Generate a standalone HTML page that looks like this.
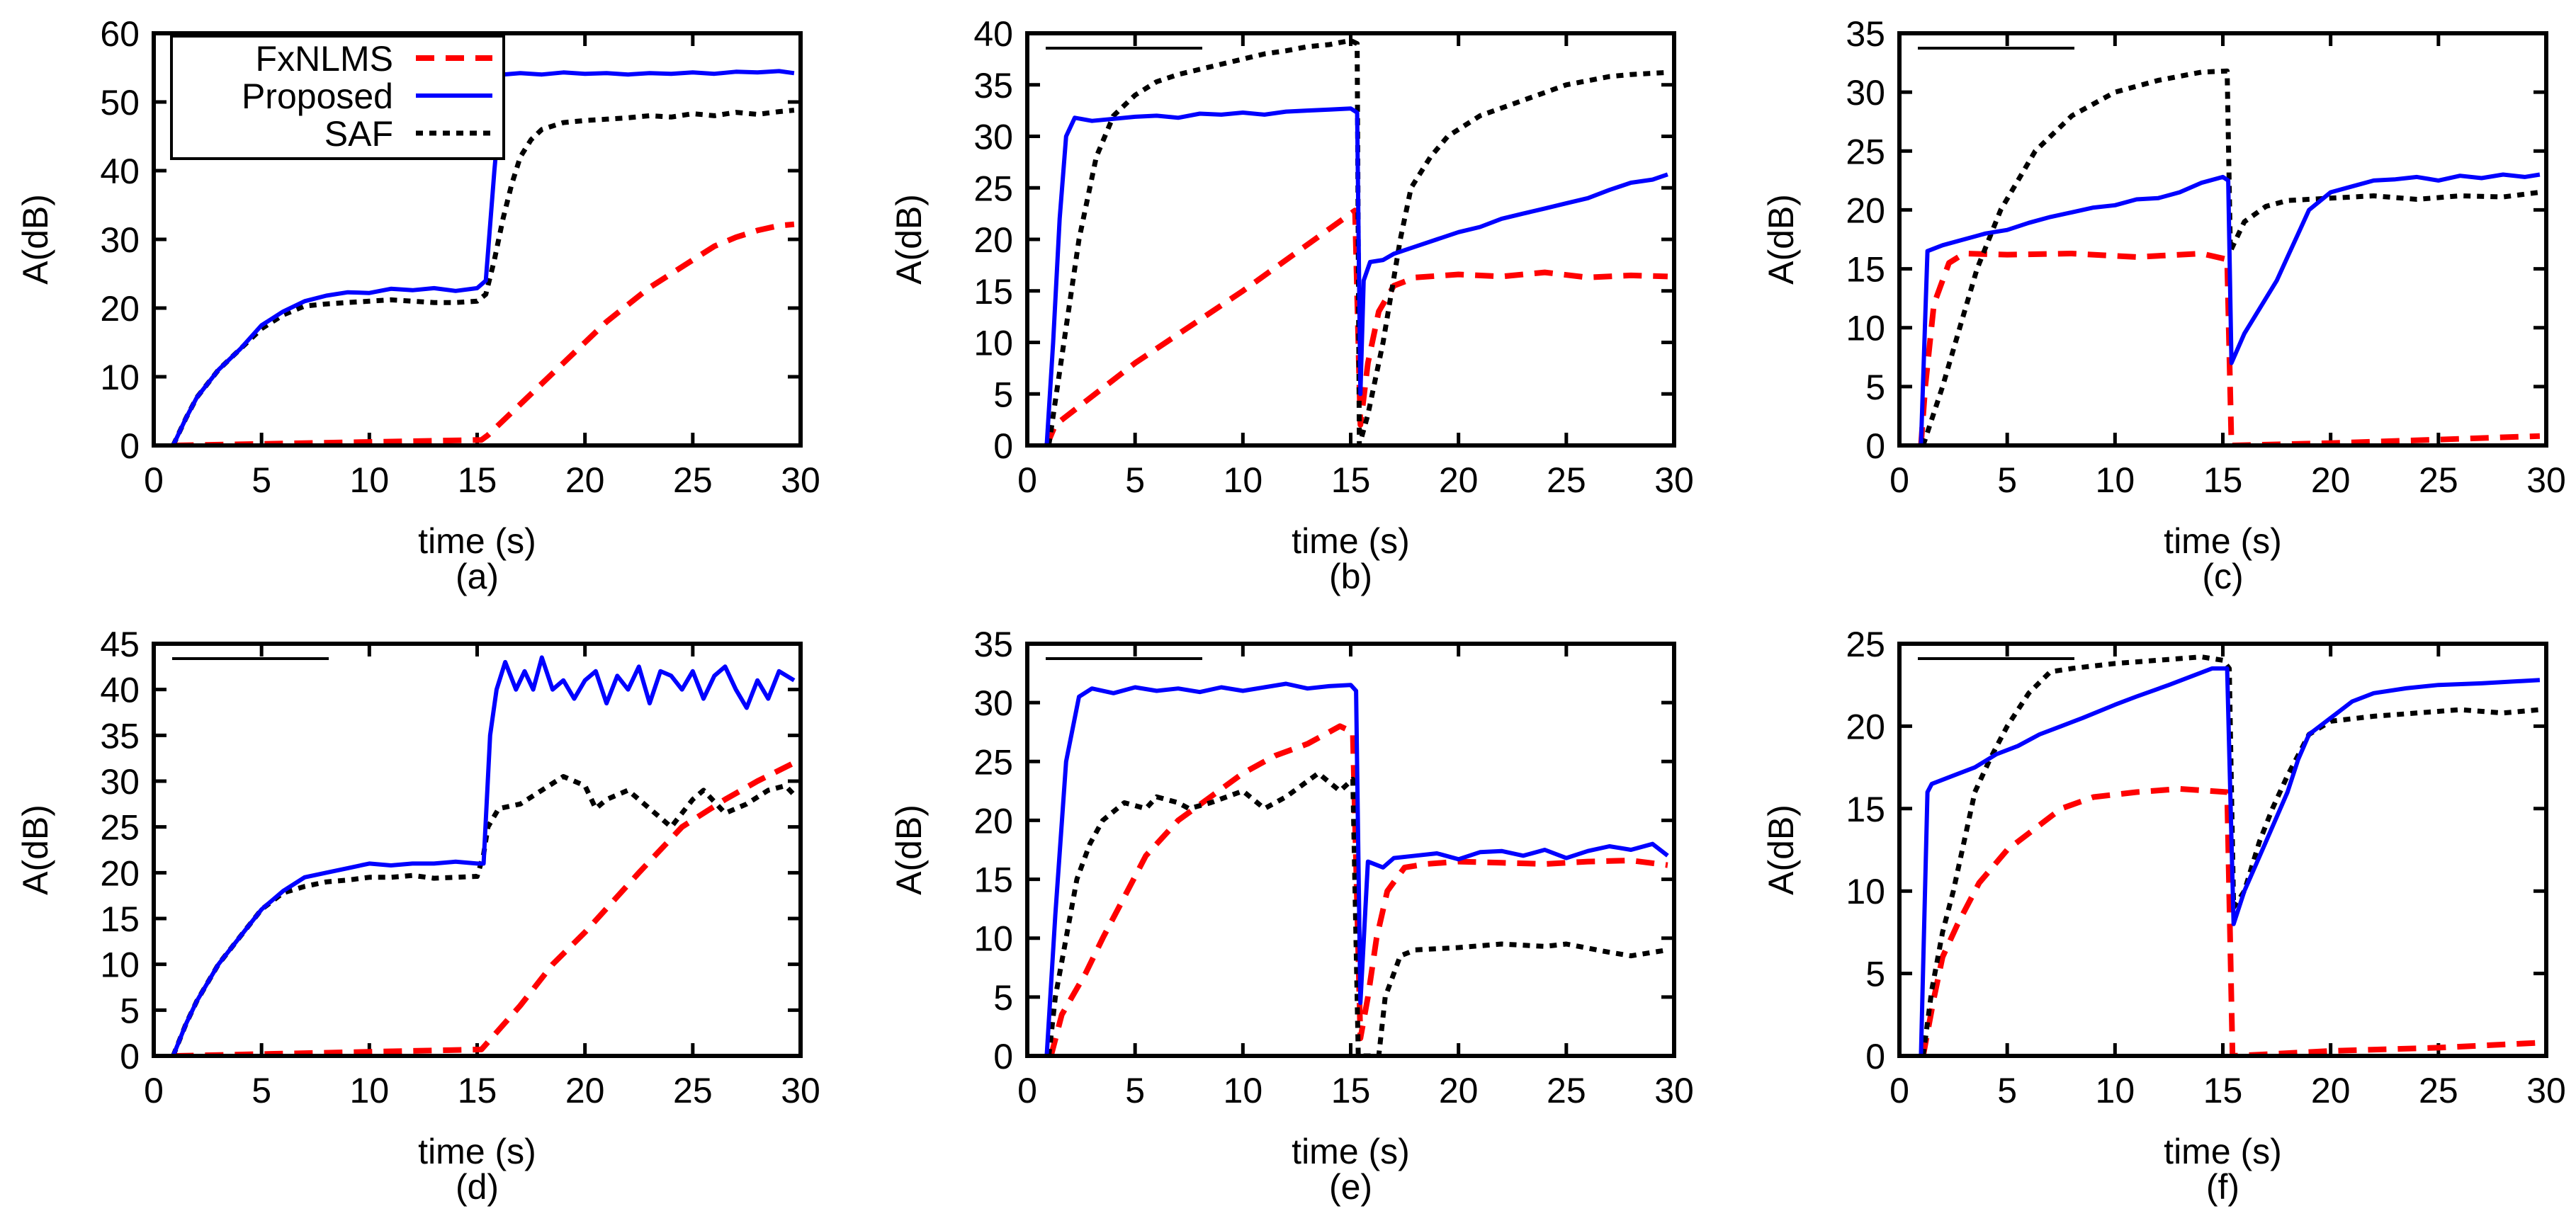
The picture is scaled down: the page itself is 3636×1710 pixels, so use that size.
<!DOCTYPE html>
<html><head><meta charset="utf-8">
<style>
html,body{margin:0;padding:0;background:#fff;}
svg{display:block;}
text{font-family:"Liberation Sans",sans-serif;fill:#000;}
</style></head>
<body>
<svg id="fig" width="3636" height="1710" viewBox="0 0 3636 1710" xmlns="http://www.w3.org/2000/svg"></svg>
<script>
const xTicks = [0,5,10,15,20,25,30];
const panelLetters = ["(a)","(b)","(c)","(d)","(e)","(f)"];
const yMaxes = [60,40,35,45,35,25];
const ySteps = [10,5,5,5,5,5];

// (a)
const aPropT=[0.9,1.5,2,3,4,5,6,7,8,9,10,11,12,13,14,15,15.4,15.8,16.2,17,18,19,20,21,22,23,24,25,26,27,28,29,29.7];
const aPropY=[0,4,7,11,14,17.5,19.5,21,21.8,22.3,22.2,22.8,22.6,22.9,22.5,22.9,24,40,54,54.2,54,54.3,54.1,54.2,54,54.2,54.1,54.3,54.1,54.4,54.3,54.5,54.2];
const aSafT=[0.9,1.5,2,3,4,5,6,7,8,9,10,11,12,13,14,15,15.4,15.8,16.2,16.6,17,17.5,18,18.5,19,20,21,22,23,24,25,26,27,28,29,29.7];
const aSafY=[0,4,7,11,14,17,19,20.3,20.6,20.8,21,21.2,21,20.8,20.8,21,22,27,33,38,42,44.5,46,46.5,47,47.3,47.5,47.7,48,47.8,48.3,48,48.5,48.2,48.6,48.8];
const aFxT=[1,15.2,15.5,16,17,18,19,20,21,22,23,24,25,26,27,28,29,29.7];
const aFxY=[0,0.8,1.5,3,6,9,12,15,18,20.5,23,25,27,29,30.3,31.3,32,32.2];
// (b)
const bPropT=[0.9,1.2,1.5,1.8,2.2,3,4,5,6,7,8,9,10,11,12,13,14,15,15.3,15.45,15.6,15.9,16.5,17,18,19,20,21,22,23,24,25,26,27,28,29,29.7];
const bPropY=[0,10,22,30,31.8,31.5,31.7,31.9,32,31.8,32.2,32.1,32.3,32.1,32.4,32.5,32.6,32.7,32.3,5,16,17.8,18,18.6,19.3,20,20.7,21.2,22,22.5,23,23.5,24,24.8,25.5,25.8,26.3];
const bSafT=[1,1.7,2.4,3.2,4,5,6,7,8,9,10,11,12,13,14,15,15.3,15.4,15.8,16.5,17.3,17.8,18.7,19.5,21,23,25,27,28,29.7];
const bSafY=[0,10,20,28,32,34,35.3,36,36.5,37,37.5,38,38.3,38.7,38.9,39.3,39,0,3,10,20,25,28,30,32,33.5,35,35.8,36,36.2];
const bFxT=[0.9,1.3,5,10,15,15.2,15.45,15.8,16.3,17,18,20,22,24,26,28,29.7];
const bFxY=[0,2,8,15,22.5,22.8,2,8,13,15.5,16.3,16.6,16.4,16.8,16.3,16.5,16.4];
// (c)
const cPropT=[1,1.3,2,3,4,5,6,7,8,9,10,11,12,13,14,15,15.25,15.4,16,17,17.5,18,18.5,19,20,21,22,23,24,25,26,27,28,29,29.7];
const cPropY=[0,16.5,17,17.5,18,18.3,18.9,19.4,19.8,20.2,20.4,20.9,21,21.5,22.3,22.8,22.5,7,9.5,12.5,14,16,18,20,21.5,22,22.5,22.6,22.8,22.5,22.9,22.7,23,22.8,23];
const cSafT=[1.1,2,2.8,3.6,4.7,6.3,8,10,12,14,15.2,15.35,16,17,18,20,22,24,26,28,29.7];
const cSafY=[0,5,10,15,20,25,28,30,31,31.7,31.8,16.5,19,20.3,20.8,21,21.2,20.9,21.2,21.1,21.5];
const cFxT=[1,1.2,1.6,2.3,3,5,8,11,14,15.2,15.4,20,25,29.7];
const cFxY=[0,5,12,15.5,16.3,16.2,16.3,16,16.3,15.8,0,0.2,0.5,0.8];
// (d)
const dPropT=[0.9,1.5,2,3,4,5,6,7,8,9,10,11,12,13,14,15,15.3,15.6,15.9,16.3,16.8,17.2,17.6,18,18.5,19,19.5,20,20.5,21,21.5,22,22.5,23,23.5,24,24.5,25,25.5,26,26.5,27,27.5,28,28.5,29,29.7];
const dPropY=[0,3.5,6,10,13,16,18,19.5,20,20.5,21,20.8,21,21,21.2,21,21,35,40,43,40,42,40,43.5,40,41,39,41,42,38.5,41.5,40,42.5,38.5,42,41.5,40,42,39,41.5,42.5,40,38,41,39,42,41];
const dSafT=[0.9,1.5,2,3,4,5,6,7,8,9,10,11,12,13,14,15,15.3,15.5,16,17,18,19,20,20.5,21,22,23,24,25,25.5,26.5,27.5,28.5,29.3,29.7];
const dSafY=[0,3.5,6,10,13,16,17.8,18.5,19,19.2,19.5,19.5,19.7,19.4,19.5,19.6,22,25,27,27.5,29,30.5,29.5,27,28,29,27,25,28,29,26.5,27.5,29,29.5,28.5];
const dFxT=[1,15.2,15.5,17,18.5,20,22.5,24.5,26.5,28,29.7];
const dFxY=[0,0.7,1.5,5.5,10,13.5,20,25,28,30,32];
// (e)
const ePropT=[0.9,1.3,1.8,2.4,3,4,5,6,7,8,9,10,11,12,13,14,15,15.25,15.45,15.8,16.5,17,18,19,20,21,22,23,24,25,26,27,28,29,29.7];
const ePropY=[0,12,25,30.5,31.2,30.8,31.3,31,31.2,30.9,31.3,31,31.3,31.6,31.2,31.4,31.5,31,4.5,16.5,16,16.8,17,17.2,16.7,17.3,17.4,17,17.5,16.8,17.4,17.8,17.5,18,17];
const eSafT=[1,1.3,1.8,2.3,2.9,3.5,4.5,5.5,6,7,7.5,8.5,10,11,12,13.5,14.5,15.1,15.35,16.3,16.6,17.3,18,20,22,24,25,27,28,29.7];
const eSafY=[0,5,10,15,18,20,21.5,21,22,21.5,21,21.5,22.5,21,22,24,22.5,23.5,0,0,5,8.5,9,9.2,9.5,9.3,9.5,8.8,8.5,9];
const eFxT=[1.1,1.6,2.7,3.5,4.5,5.5,7,8.5,10,11.5,13,14.5,15.1,15.45,15.8,16.2,16.7,17.5,18.5,20,22,24,26,28,29.7];
const eFxY=[0,3.5,7,10,13.5,17,20,22,24,25.5,26.5,28,27.5,1.5,5,10,14,16,16.3,16.5,16.4,16.3,16.5,16.6,16.2];
// (f)
const fPropT=[1,1.3,1.5,2.5,3.5,4.5,5.5,6.5,7.5,8.5,10,11,12.5,13.5,14.5,15.2,15.5,16,17,18,18.5,19,20,21,22,23.5,25,27,29.7];
const fPropY=[0,16,16.5,17,17.5,18.3,18.8,19.5,20,20.5,21.3,21.8,22.5,23,23.5,23.5,8,10,13,16,18,19.5,20.5,21.5,22,22.3,22.5,22.6,22.8];
const fSafT=[1.1,1.5,2,2.5,3,3.5,4.2,5,6,7,8,10,12,14,15,15.3,15.5,16,16.7,17.3,18,19,20,22,24,26,28,29.7];
const fSafY=[0,4,7.5,10,13,16,18,20,22,23.3,23.5,23.8,24,24.2,24,23.5,9,10,13,15,17,19.5,20.3,20.6,20.8,21,20.8,21];
const fFxT=[1.1,1.6,2,2.7,3.7,5,6.5,7.5,9,11,13,15.2,15.45,17,20,25,29.7];
const fFxY=[0,3.5,6,8,10.5,12.5,14,15,15.7,16,16.2,16,0,0.1,0.3,0.5,0.8];

const panelsData=[
 {prop:[aPropT,aPropY],saf:[aSafT,aSafY],fx:[aFxT,aFxY]},
 {prop:[bPropT,bPropY],saf:[bSafT,bSafY],fx:[bFxT,bFxY]},
 {prop:[cPropT,cPropY],saf:[cSafT,cSafY],fx:[cFxT,cFxY]},
 {prop:[dPropT,dPropY],saf:[dSafT,dSafY],fx:[dFxT,dFxY]},
 {prop:[ePropT,ePropY],saf:[eSafT,eSafY],fx:[eFxT,eFxY]},
 {prop:[fPropT,fPropY],saf:[fSafT,fSafY],fx:[fFxT,fFxY]}
];

const NS="http://www.w3.org/2000/svg";
const svg=document.getElementById('fig');
function mk(tag,attrs,parent){const e=document.createElementNS(NS,tag);for(const k in attrs)e.setAttribute(k,attrs[k]);(parent||svg).appendChild(e);return e;}

const colX=[217,1450,2681], rowY=[47,909], W=913, H=582;
const FS=50;

panelsData.forEach((pd,i)=>{
  const left=colX[i%3], top=rowY[Math.floor(i/3)];
  const ymax=yMaxes[i], ystep=ySteps[i];
  const sx=t=>left+t/30*W;
  const sy=v=>top+H-v/ymax*H;
  const g=mk('g',{});
  
  
  const clipId='clip'+i;
  const cp=mk('clipPath',{id:clipId},g);
  mk('rect',{x:left,y:top,width:W,height:H},cp);
  xTicks.forEach(t=>{
    const x=sx(t);
    mk('line',{x1:x,y1:top+H,x2:x,y2:top+H-18,stroke:'#000','stroke-width':5},g);
    mk('line',{x1:x,y1:top,x2:x,y2:top+18,stroke:'#000','stroke-width':5},g);
    const tl=mk('text',{x:x,y:top+H+66,'font-size':FS,'text-anchor':'middle'},g);
    tl.textContent=t;
    
    
  });
  for(let v=0;v<=ymax+1e-9;v+=ystep){
    const y=sy(v);
    mk('line',{x1:left,y1:y,x2:left+18,y2:y,stroke:'#000','stroke-width':5},g);
    mk('line',{x1:left+W,y1:y,x2:left+W-18,y2:y,stroke:'#000','stroke-width':5},g);
    const tl=mk('text',{x:left-20,y:y+18,'font-size':FS,'text-anchor':'end'},g);
    tl.textContent=v;
    
    
  }
  const series=[
    {d:pd.fx,color:'#ff0000',w:8,dash:'26 16',name:'fxnlms-line'},
    {d:pd.saf,color:'#000000',w:7,dash:'10 9',name:'saf-line'},
    {d:pd.prop,color:'#0000ff',w:6,dash:'',name:'proposed-line'}
  ];
  series.forEach(s=>{
    const T=s.d[0],Y=s.d[1],n=Math.min(T.length,Y.length);
    let p='';
    for(let k=0;k<n;k++)p+=(k?'L':'M')+sx(T[k]).toFixed(1)+' '+sy(Y[k]).toFixed(1);
    const path=mk('path',{d:p,fill:'none',stroke:s.color,'stroke-width':s.w,'stroke-linejoin':'round','clip-path':'url(#'+clipId+')'},g);
    if(s.dash)path.setAttribute('stroke-dasharray',s.dash);
    
    
  });
  const fr=mk('rect',{x:left,y:top,width:W,height:H,fill:'none',stroke:'#000','stroke-width':6},g);
  
  
  const yl=mk('text',{x:0,y:0,'font-size':FS,'text-anchor':'middle',transform:'translate('+(left-150)+','+(top+H/2)+') rotate(-90)'},g);
  yl.textContent='A(dB)';
  
  
  const xl=mk('text',{x:left+W/2,y:top+H+152,'font-size':FS,'text-anchor':'middle'},g);
  xl.textContent='time (s)';
  
  
  const pl=mk('text',{x:left+W/2,y:top+H+202,'font-size':FS,'text-anchor':'middle'},g);
  pl.textContent=panelLetters[i];
  
  
  if(i===0){
    const lg=mk('g',{},g);
    
    
    mk('rect',{x:242,y:51,width:469,height:173,fill:'#fff',stroke:'#000','stroke-width':4},lg);
    const ents=[['FxNLMS','#ff0000','26 16',8],['Proposed','#0000ff','',6],['SAF','#000000','10 9',7]];
    ents.forEach((e,k)=>{
      const yy=82+k*53;
      const t=mk('text',{x:555,y:yy+18,'font-size':FS,'text-anchor':'end'},lg);
      t.textContent=e[0];
      
      
      const l=mk('line',{x1:587,y1:yy,x2:695,y2:yy,stroke:e[1],'stroke-width':e[3]},lg);
      if(e[2])l.setAttribute('stroke-dasharray',e[2]);
    });
  } else {
    const ln=mk('line',{x1:left+26,y1:top+21,x2:left+247,y2:top+21,stroke:'#000','stroke-width':4},g);
    
    
  }
});
</script>
</body></html>
